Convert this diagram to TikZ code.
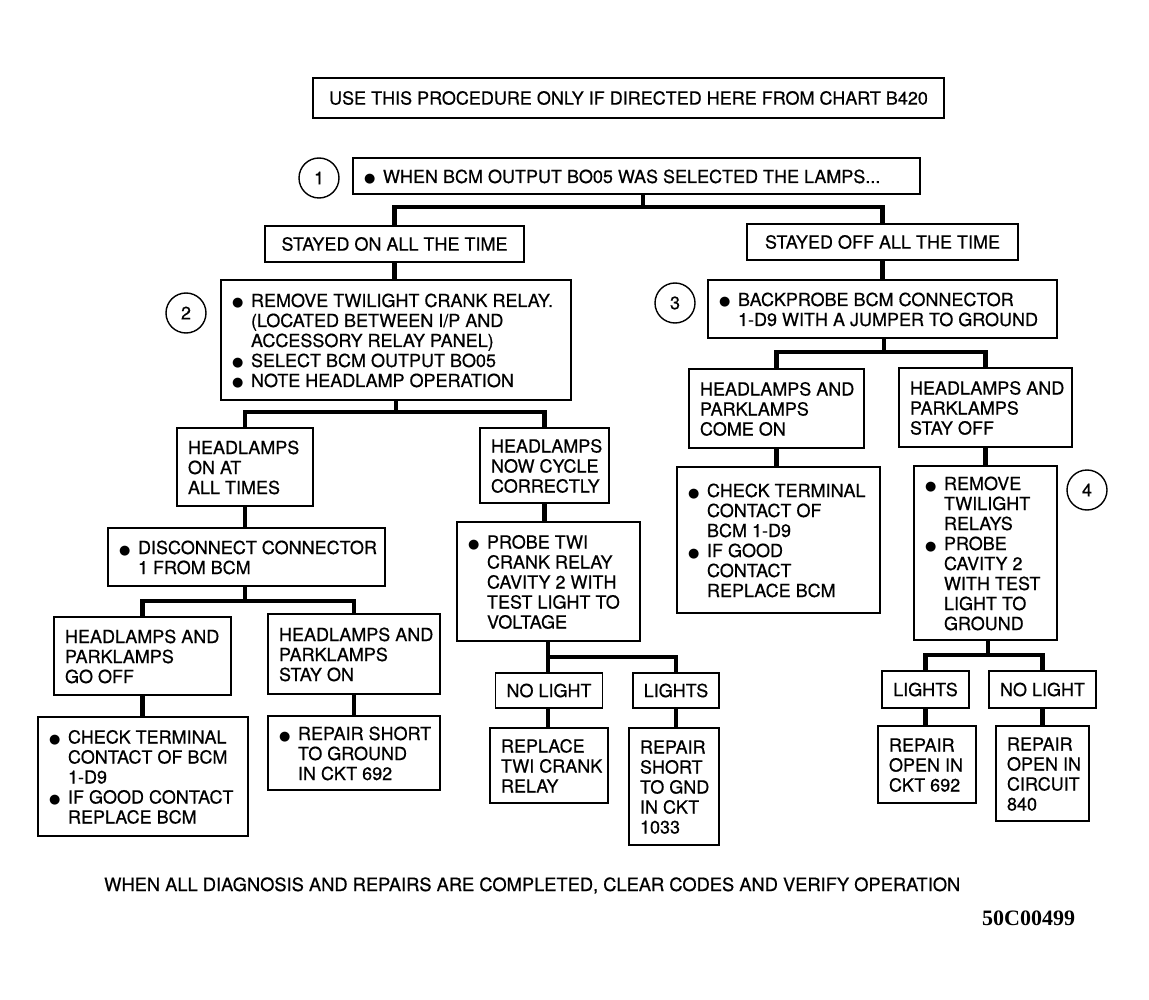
\documentclass[tikz,border=0pt]{standalone}
\usepackage{fontspec}
\setmainfont[FakeBold=0.6]{TeX Gyre Heros}
\newfontfamily\dejavu{DejaVu Sans}
\newfontfamily\serifcode{Liberation Serif}
\newcommand\fs{\fontsize{18}{20}\selectfont}
\newcommand\bu{\makebox[19pt][l]{{\dejavu\fontsize{13}{13}\selectfont ●}}}
\newcommand\ind{\hspace*{19pt}}
\newcommand\T[2]{\raisebox{-3pt}[\height][\depth]{\makebox[#1][l]{\begin{tabular}{@{}l@{}}#2\end{tabular}}}}
\tikzset{
  box/.style={draw, line width=1.6pt, inner xsep=11pt, inner ysep=0pt, font=\fs, align=center},
  circ/.style={draw, circle, line width=1.4pt, minimum size=40pt, inner sep=0pt, font=\fs},
  conn/.style={line width=4.5pt, line join=miter},
}
\begin{document}
\begin{tikzpicture}[x=1pt, y=-1pt]
\useasboundingbox (0,0) rectangle (1149,1000);

% top
\node[box, minimum width=631pt, minimum height=40pt] (top) at (628.5,98) {USE THIS PROCEDURE ONLY IF DIRECTED HERE FROM CHART B420};

\node[circ] (c1) at (319,178) {1};
\node[box, minimum width=567pt, minimum height=36pt] (b1) at (636.5,176) {\T{545pt}{\bu WHEN BCM OUTPUT BO05 WAS SELECTED THE LAMPS...}};

\node[box, minimum width=259pt, minimum height=36pt] (son) at (394.5,244) {STAYED ON ALL THE TIME};
\node[box, minimum width=271pt, minimum height=36pt] (soff) at (882.5,242) {STAYED OFF ALL THE TIME};

% left branch
\node[circ] (c2) at (186,313) {2};
\node[box, minimum width=350pt, minimum height=120pt] (b2) at (396,340) {\T{328pt}{\bu REMOVE TWILIGHT CRANK RELAY.\\ \ind (LOCATED BETWEEN I/P AND\\ \ind ACCESSORY RELAY PANEL)\\ \bu SELECT BCM OUTPUT BO05\\ \bu NOTE HEADLAMP OPERATION}};

\node[box, minimum width=136pt, minimum height=78pt] (hon) at (245,467) {\T{114pt}{HEADLAMPS\\ ON AT\\ ALL TIMES}};
\node[box, minimum width=277pt, minimum height=58pt] (disc) at (246.5,557) {\T{255pt}{\bu DISCONNECT CONNECTOR\\ \ind 1 FROM BCM}};
\node[box, minimum width=177pt, minimum height=78pt] (goff) at (142.5,656) {\T{155pt}{HEADLAMPS AND\\ PARKLAMPS\\ GO OFF}};
\node[box, minimum width=172pt, minimum height=80pt] (stayon) at (354,654) {\T{150pt}{HEADLAMPS AND\\ PARKLAMPS\\ STAY ON}};
\node[box, minimum width=210pt, minimum height=119pt] (chk1) at (143,776.5) {\T{188pt}{\bu CHECK TERMINAL\\ \ind CONTACT OF BCM\\ \ind 1-D9\\ \bu IF GOOD CONTACT\\ \ind REPLACE BCM}};
\node[box, minimum width=172pt, minimum height=74pt] (rshort) at (354,753) {\T{150pt}{\bu REPAIR SHORT\\ \ind TO GROUND\\ \ind IN CKT 692}};

\node[box, minimum width=129pt, minimum height=75pt] (cyc) at (544.5,465.5) {\T{107pt}{HEADLAMPS\\ NOW CYCLE\\ CORRECTLY}};
\node[box, minimum width=183pt, minimum height=119pt] (probe) at (548.5,581.5) {\T{161pt}{\bu PROBE TWI\\ \ind CRANK RELAY\\ \ind CAVITY 2 WITH\\ \ind TEST LIGHT TO\\ \ind VOLTAGE}};
\node[box, minimum width=104pt, minimum height=35pt] (nl1) at (549,690.5) {NO LIGHT};
\node[box, minimum width=86pt, minimum height=35pt] (l1) at (676,690.5) {LIGHTS};
\node[box, minimum width=118pt, minimum height=75pt] (rtwi) at (549,765.5) {\T{96pt}{REPLACE\\ TWI CRANK\\ RELAY}};
\node[box, minimum width=90pt, minimum height=117pt] (rgnd) at (674,786.5) {\T{68pt}{REPAIR\\ SHORT\\ TO GND\\ IN CKT\\ 1033}};

% right branch
\node[circ] (c3) at (675,303) {3};
\node[box, minimum width=349pt, minimum height=58pt] (b3) at (882.5,309) {\T{327pt}{\bu BACKPROBE BCM CONNECTOR\\ \ind 1-D9 WITH A JUMPER TO GROUND}};
\node[box, minimum width=175pt, minimum height=79pt] (con) at (776.5,408.5) {\T{153pt}{HEADLAMPS AND\\ PARKLAMPS\\ COME ON}};
\node[box, minimum width=173pt, minimum height=79pt] (soff2) at (985.5,407.5) {\T{151pt}{HEADLAMPS AND\\ PARKLAMPS\\ STAY OFF}};
\node[box, minimum width=203pt, minimum height=146pt] (chk2) at (778.5,540) {\T{181pt}{\bu CHECK TERMINAL\\ \ind CONTACT OF\\ \ind BCM 1-D9\\ \bu IF GOOD\\ \ind CONTACT\\ \ind REPLACE BCM}};
\node[box, minimum width=143pt, minimum height=174pt] (rem) at (985.5,553) {\T{121pt}{\bu REMOVE\\ \ind TWILIGHT\\ \ind RELAYS\\ \bu PROBE\\ \ind CAVITY 2\\ \ind WITH TEST\\ \ind LIGHT TO\\ \ind GROUND}};
\node[circ] (c4) at (1087,490) {4};
\node[box, minimum width=81pt, minimum height=37pt] (l2) at (925.5,689.5) {LIGHTS};
\node[box, minimum width=101pt, minimum height=37pt] (nl2) at (1042.5,689.5) {NO LIGHT};
\node[box, minimum width=98pt, minimum height=77pt] (r692) at (927,764.5) {\T{76pt}{REPAIR\\ OPEN IN\\ CKT 692}};
\node[box, minimum width=93pt, minimum height=95pt] (r840) at (1042.5,773.5) {\T{71pt}{REPAIR\\ OPEN IN\\ CIRCUIT\\ 840}};

% footer
\node[anchor=base west, inner sep=0pt, font=\fontsize{18.3}{20}\selectfont] (note) at (104,891) {WHEN ALL DIAGNOSIS AND REPAIRS ARE COMPLETED, CLEAR CODES AND VERIFY OPERATION};
\node[anchor=base west, inner sep=0pt, font=\serifcode\bfseries\fontsize{22}{24}\selectfont] (code) at (982,925) {50C00499};

% connectors
\coordinate (j1) at (643,207);
\draw[conn] (b1.south -| j1) -- (j1);
\draw[conn] (son.north) |- (j1) -| (soff.north);
\draw[conn] (son.south) -- (son.south |- b2.north);

\coordinate (j2) at (396,412);
\draw[conn] (b2.south -| j2) -- (j2);
\draw[conn] (hon.north) |- (j2) -| (cyc.north);
\draw[conn] (hon.south) -- (hon.south |- disc.north);

\coordinate (j3) at (245,601);
\draw[conn] (disc.south -| j3) -- (j3);
\draw[conn] (goff.north) |- (j3) -| (stayon.north);
\draw[conn] (goff.south) -- (goff.south |- chk1.north);
\draw[conn] (stayon.south) -- (stayon.south |- rshort.north);

\draw[conn] (cyc.south) -- (cyc.south |- probe.north);
\coordinate (j4) at (548,657);
\draw[conn] (probe.south -| j4) -- (nl1.north -| j4);
\draw[conn] (j4) -| (l1.north);
\draw[conn] (nl1.south -| j4) -- (rtwi.north -| j4);
\draw[conn] (l1.south) -- (l1.south |- rgnd.north);

\draw[conn] (soff.south) -- (soff.south |- b3.north);
\coordinate (j5) at (884,352);
\draw[conn] (b3.south -| j5) -- (j5);
\draw[conn] (con.north) |- (j5) -| (soff2.north);
\draw[conn] (con.south) -- (con.south |- chk2.north);
\draw[conn] (soff2.south) -- (soff2.south |- rem.north);

\coordinate (j6) at (988,655);
\draw[conn] (rem.south -| j6) -- (j6);
\draw[conn] (l2.north) |- (j6) -| (nl2.north);
\draw[conn] (l2.south) -- (l2.south |- r692.north);
\draw[conn] (nl2.south) -- (nl2.south |- r840.north);
\end{tikzpicture}
\end{document}
